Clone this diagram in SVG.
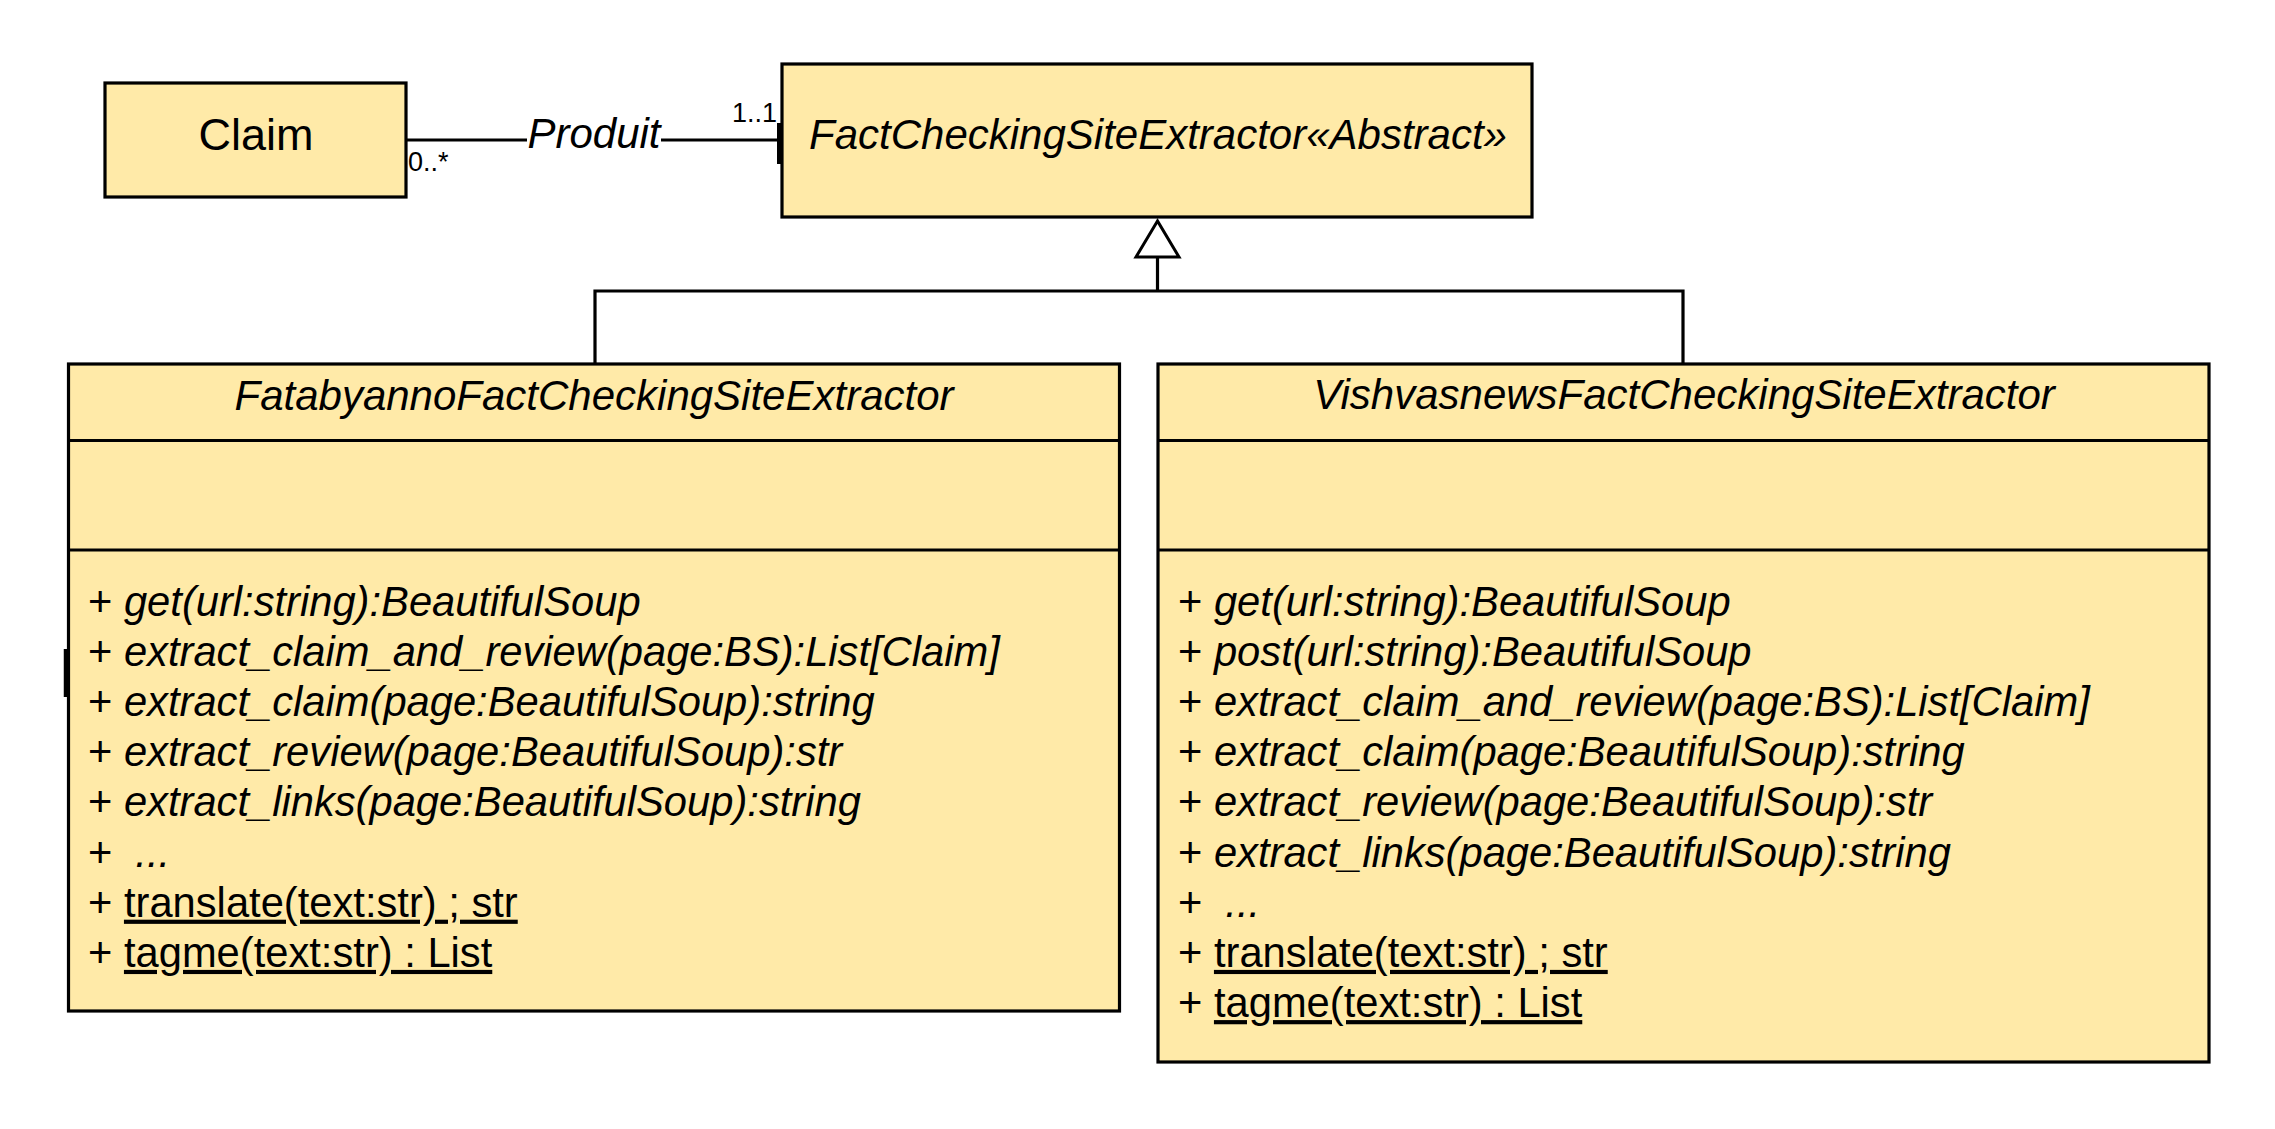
<svg xmlns="http://www.w3.org/2000/svg" width="2275" height="1129" viewBox="0 0 2275 1129">
<style>
.box{fill:#FFEAA8;stroke:#000;stroke-width:3.2}
.div{stroke:#000;stroke-width:3.2;fill:none}
.conn{stroke:#000;stroke-width:3;fill:none}
text{font-family:"Liberation Sans",Arial,sans-serif;fill:#000}
.t42{font-size:42px}
.it{font-style:italic}
.m{font-size:41.7px}
.mult{font-size:27px}
.u{text-decoration:underline;text-decoration-skip-ink:none}
</style>
<rect width="2275" height="1129" fill="#fff"/>
<g id="claim">
<rect class="box" x="105" y="83" width="301" height="114"/>
<text x="256" y="150" font-size="45" text-anchor="middle">Claim</text>
</g>
<g id="factchecking-abstract">
<rect class="box" x="782" y="64" width="750" height="153"/>
<text class="t42 it" x="1158" y="149" text-anchor="middle">FactCheckingSiteExtractor«Abstract»</text>
</g>
<g id="fatabyanno">
<rect class="box" x="68.5" y="364" width="1051" height="647"/>
<line class="div" x1="68.5" y1="440.5" x2="1119.5" y2="440.5"/>
<line class="div" x1="68.5" y1="550" x2="1119.5" y2="550"/>
<text class="t42 it" x="594" y="410" text-anchor="middle">FatabyannoFactCheckingSiteExtractor</text>
<g class="m">
<text x="88" y="615.5">+ <tspan class="it">get(url:string):BeautifulSoup</tspan></text>
<text x="88" y="665.7">+ <tspan class="it">extract_claim_and_review(page:BS):List[Claim]</tspan></text>
<text x="88" y="715.9">+ <tspan class="it">extract_claim(page:BeautifulSoup):string</tspan></text>
<text x="88" y="766.1">+ <tspan class="it">extract_review(page:BeautifulSoup):str</tspan></text>
<text x="88" y="816.3">+ <tspan class="it">extract_links(page:BeautifulSoup):string</tspan></text>
<text x="88" y="866.5">+<tspan class="it" dx="23">...</tspan></text>
<text x="88" y="916.7">+ <tspan class="u">translate(text:str) ; str</tspan></text>
<text x="88" y="966.9">+ <tspan class="u">tagme(text:str) : List</tspan></text>
</g>
</g>
<g id="vishvasnews">
<rect class="box" x="1158" y="364" width="1051" height="698"/>
<line class="div" x1="1158" y1="440.5" x2="2209" y2="440.5"/>
<line class="div" x1="1158" y1="550" x2="2209" y2="550"/>
<text class="t42 it" x="1684" y="409" text-anchor="middle">VishvasnewsFactCheckingSiteExtractor</text>
<g class="m">
<text x="1178" y="615.5">+ <tspan class="it">get(url:string):BeautifulSoup</tspan></text>
<text x="1178" y="665.7">+ <tspan class="it">post(url:string):BeautifulSoup</tspan></text>
<text x="1178" y="715.9">+ <tspan class="it">extract_claim_and_review(page:BS):List[Claim]</tspan></text>
<text x="1178" y="766.1">+ <tspan class="it">extract_claim(page:BeautifulSoup):string</tspan></text>
<text x="1178" y="816.3">+ <tspan class="it">extract_review(page:BeautifulSoup):str</tspan></text>
<text x="1178" y="866.5">+ <tspan class="it">extract_links(page:BeautifulSoup):string</tspan></text>
<text x="1178" y="916.7">+<tspan class="it" dx="23">...</tspan></text>
<text x="1178" y="966.9">+ <tspan class="u">translate(text:str) ; str</tspan></text>
<text x="1178" y="1017.1">+ <tspan class="u">tagme(text:str) : List</tspan></text>
</g>
</g>
<g id="connectors">
<g id="assoc-produit">
<line class="conn" x1="406" y1="140" x2="527" y2="140"/>
<line class="conn" x1="661" y1="140" x2="780" y2="140"/>
<line x1="779" y1="123" x2="779" y2="164" stroke="#000" stroke-width="4"/>
<text class="t42 it" x="594" y="148" text-anchor="middle">Produit</text>
<text class="mult" x="408" y="171">0..*</text>
<text class="mult" x="777" y="122" text-anchor="end">1..1</text>
</g>
<g id="generalization">
<polyline class="div" points="595,364 595,291 1683,291 1683,364"/>
<line class="div" x1="1157.5" y1="291" x2="1157.5" y2="257"/>
<polygon points="1157.5,221 1136,257 1179,257" fill="#fff" stroke="#000" stroke-width="3"/>
</g>
<line x1="65.5" y1="649" x2="65.5" y2="697" stroke="#000" stroke-width="3.5"/>
</g>
</svg>
